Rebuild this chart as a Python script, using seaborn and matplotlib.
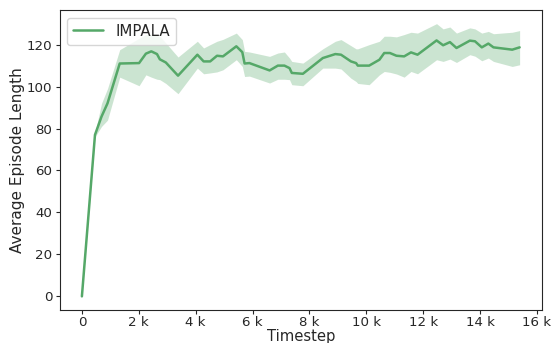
import numpy as np
import pandas as pd
import matplotlib
matplotlib.use("Agg")
import matplotlib.pyplot as plt
import seaborn as sns
from matplotlib.ticker import EngFormatter

# values (timestep, mean, lower, upper)
timestep = [0, 460, 690, 900, 1330, 2010, 2250, 2440, 2640, 2740, 2950, 3380,
            4060, 4280, 4510, 4750, 4960, 5430, 5640, 5720, 5890, 6600, 6890,
            7120, 7300, 7380, 7770, 8470, 8910, 9110, 9460, 9640, 9700, 10100,
            10460, 10630, 10830, 11060, 11330, 11570, 11800, 12470, 12700,
            12940, 13170, 13640, 13820, 14060, 14290, 14470, 15130, 15390]
mean_len = [0, 77, 85.7, 92, 111, 111.2, 115.7, 116.8, 115.5, 113, 111.5, 105.2,
            115.2, 112, 112, 114.7, 114.4, 119.2, 116.4, 111, 111.2, 107.7, 110,
            110, 108.8, 106.5, 106.1, 113.6, 115.5, 115.2, 112, 111.2, 110, 110,
            112.8, 116, 116, 114.7, 114.4, 116.3, 115.2, 122, 119.7,
            121.2, 118.4, 121.9, 121.6, 118.7, 120.5, 118.7, 117.6, 118.7]
lower = [0, 76, 81, 84, 104.5, 100.4, 105.6, 104.5, 103.5, 103.3, 101.5, 96.6,
         108.8, 106.1, 106.5, 107, 108, 112.8, 109.6, 104.8, 105, 101.7, 103.5,
         103.5, 103.3, 100.9, 100.4, 108.8, 108.8, 108.4, 104, 102.4, 101.5, 100.9,
         105.6, 107.2, 106.8, 106, 104.5, 107.2, 106.1, 112.8, 112,
         113.1, 111.5, 115.2, 114.5, 112.3, 113.6, 112, 109.6, 110.4]
upper = [0, 78, 92, 99, 117.6, 123, 124.8, 125, 124.5, 124, 120.8, 114.1,
         121.6, 118.4, 120, 121.6, 122.5, 125.5, 122.4, 116.8, 116.5, 114.4, 116,
         116.5, 113.6, 112, 111.2, 118, 121.6, 122.4, 119.5, 118, 118, 120,
         121.6, 124, 124, 123.7, 124.8, 125.9, 125.5, 130, 127.5,
         128.4, 125.5, 128, 127.5, 125.5, 126.3, 125.2, 125.9, 126.7]

df = pd.DataFrame({"Timestep": timestep, "Average Episode Length": mean_len})

sns.set_style("ticks")
color = sns.color_palette("deep")[2]

fig = plt.figure(figsize=(5.54, 3.43), dpi=100)
ax = fig.add_axes([0.1083, 0.0962, 0.8697, 0.8746])

ax.fill_between(timestep, lower, upper, color=color, alpha=0.3, linewidth=0)
sns.lineplot(data=df, x="Timestep", y="Average Episode Length", color=color,
             linewidth=1.8, label="IMPALA", ax=ax)

ax.xaxis.set_major_formatter(EngFormatter())
ax.set_xticks(np.arange(0, 16001, 2000))
ax.set_yticks(np.arange(0, 121, 20))
ax.set_xlim(-770, 16170)
ax.set_ylim(-6.5, 136.5)
ax.tick_params(labelsize=9.6, length=3, pad=2.5)
ax.tick_params(axis="x", pad=1.5)
ax.set_xlabel("Timestep", fontsize=10.6)
ax.xaxis.set_label_coords(0.5, -0.062)
ax.set_ylabel("Average Episode Length", fontsize=11, labelpad=1)
ax.legend(loc="upper left", fontsize=10.8)

fig.savefig("out.png", dpi=100)
